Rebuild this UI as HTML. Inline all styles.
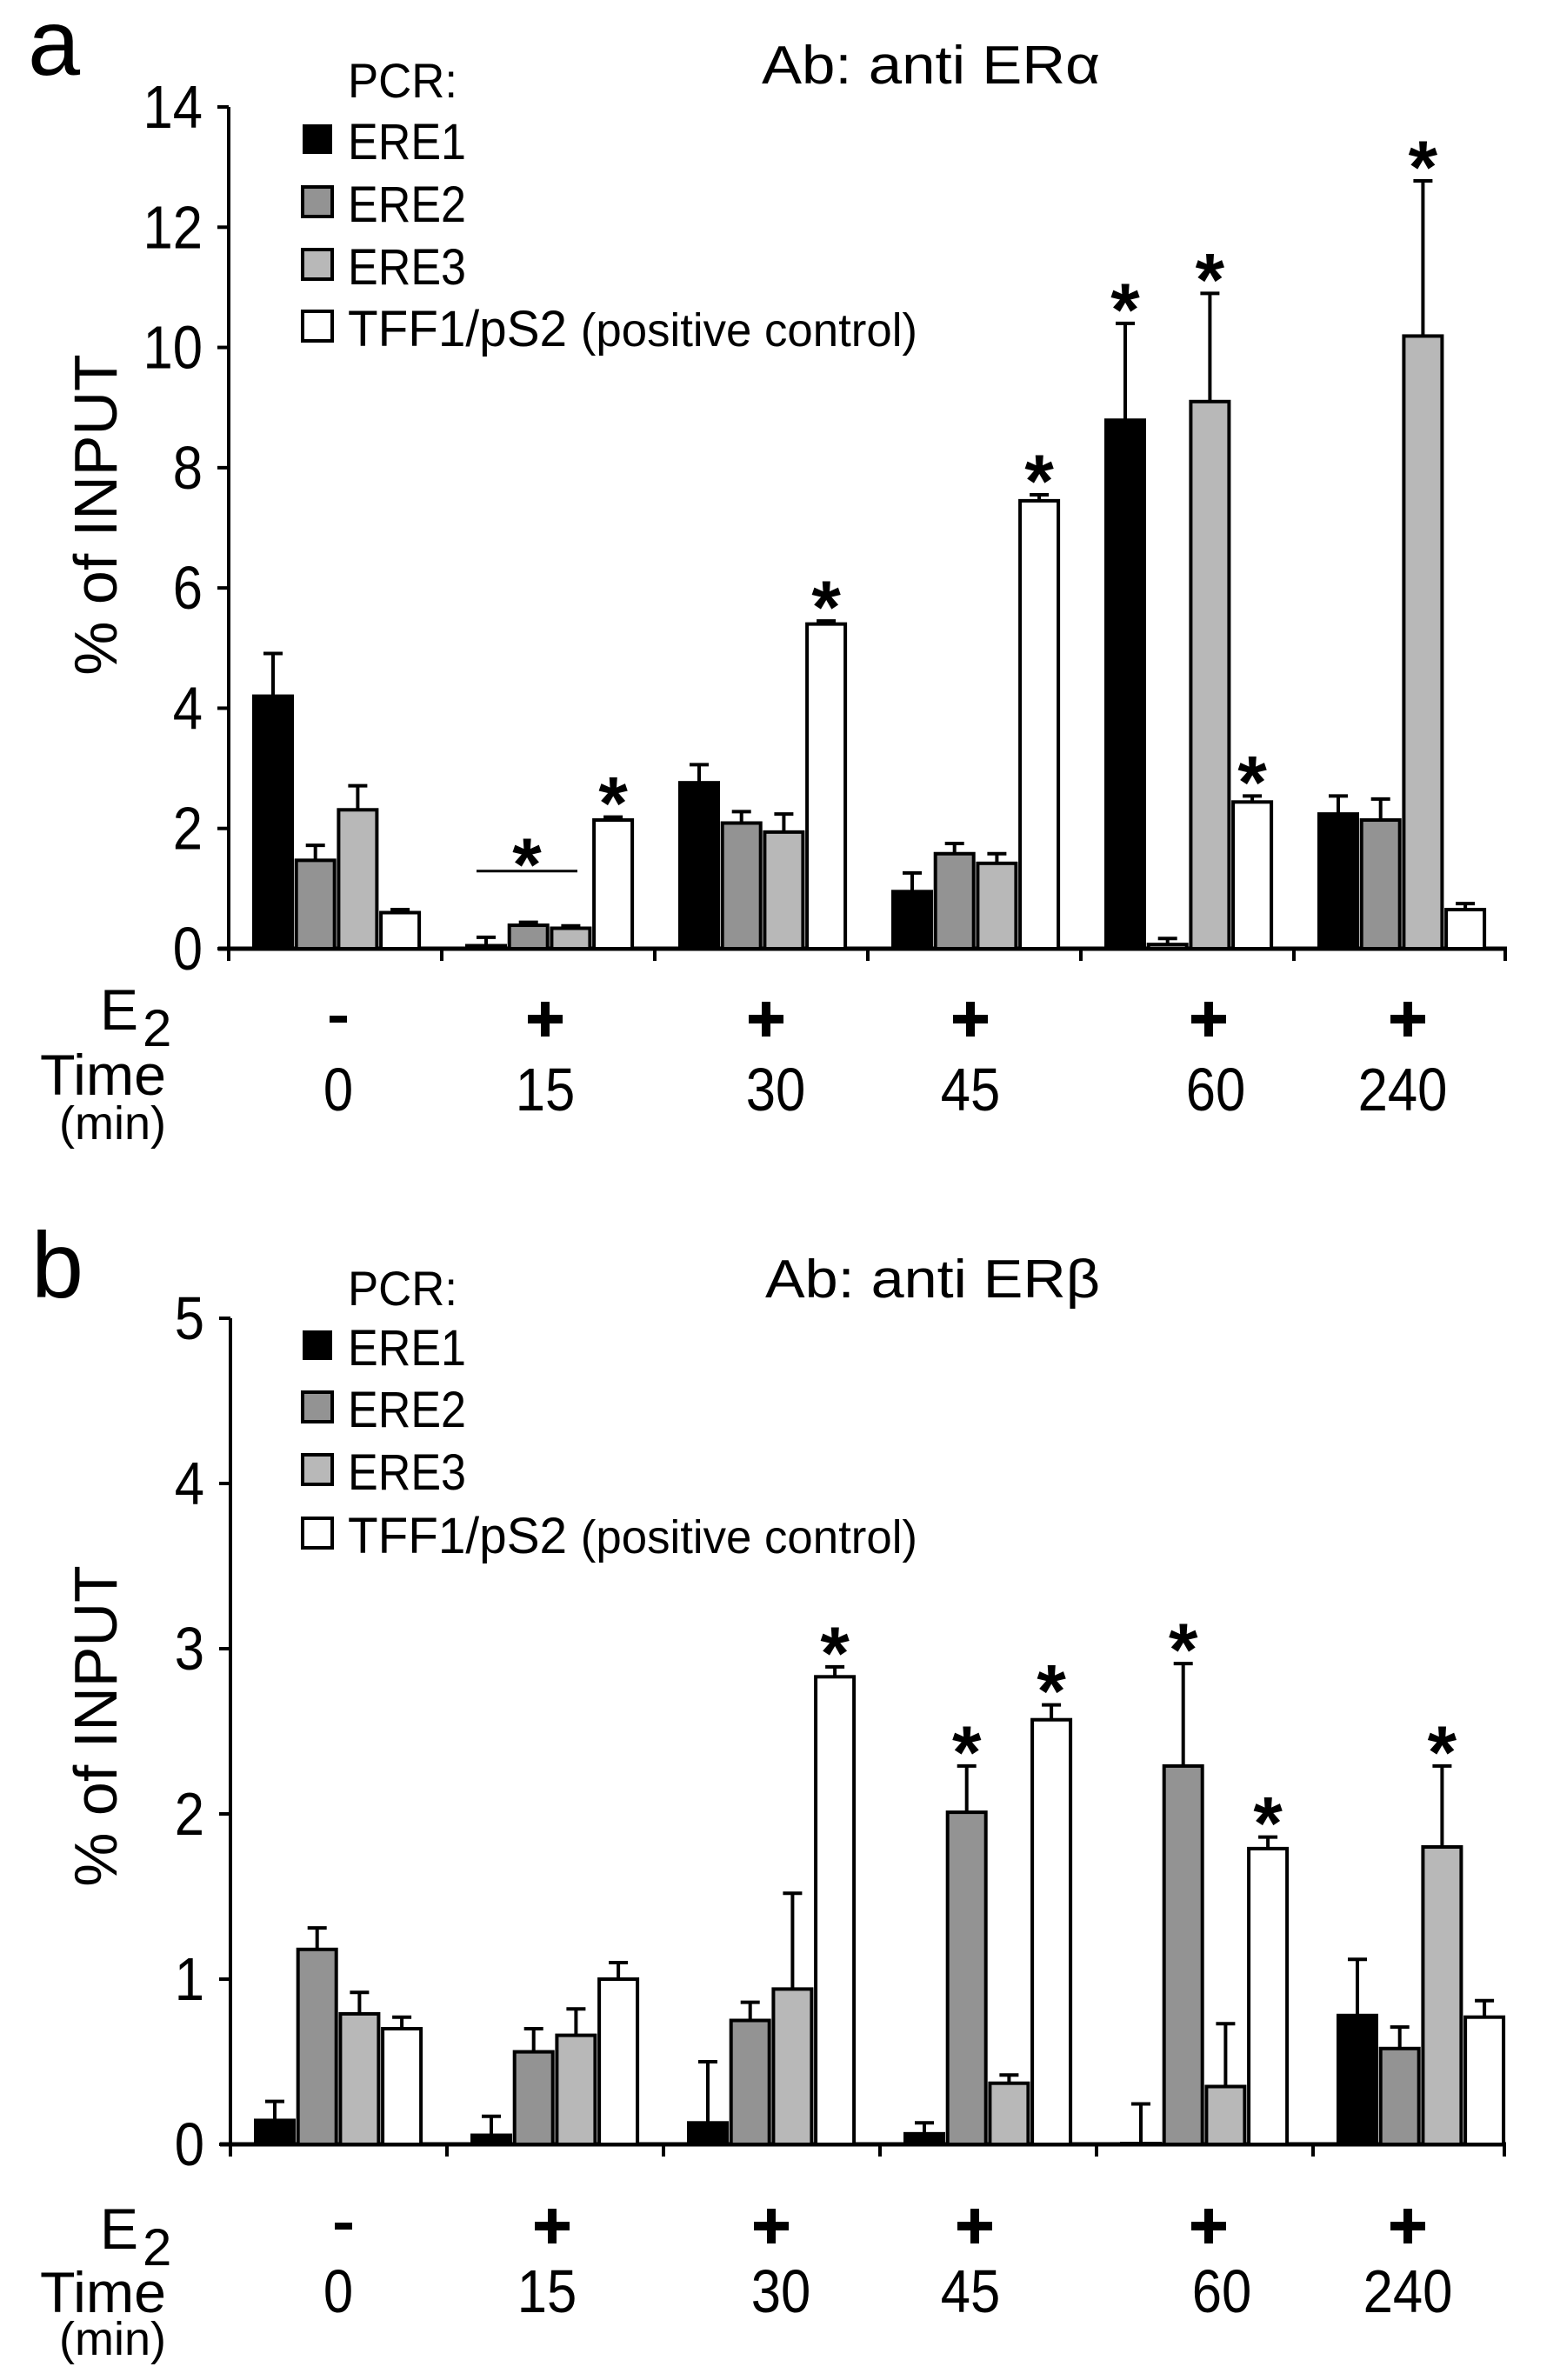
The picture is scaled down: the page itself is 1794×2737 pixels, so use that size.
<!DOCTYPE html>
<html><head><meta charset="utf-8"><style>
html,body{margin:0;padding:0;background:#fff}
svg{display:block}
text{font-family:"Liberation Sans",Arial,sans-serif;fill:#000}
</style></head><body>
<svg id="fig" width="1794" height="2737" viewBox="0 0 1794 2737" xmlns="http://www.w3.org/2000/svg">
<g>
<text x="32" y="86" font-size="108">a</text>
<text x="876" y="96" font-size="62" textLength="389" lengthAdjust="spacingAndGlyphs">Ab: anti ERα</text>
<text x="400" y="112" font-size="56" textLength="126" lengthAdjust="spacingAndGlyphs">PCR:</text>
<text transform="translate(134,592) rotate(-90)" font-size="70" text-anchor="middle">% of INPUT</text>
<text x="115" y="1184" font-size="66">E</text>
<text x="164" y="1203" font-size="60">2</text>
<text x="46" y="1259" font-size="66" textLength="145" lengthAdjust="spacingAndGlyphs">Time</text>
<text x="68" y="1310" font-size="54" textLength="123" lengthAdjust="spacingAndGlyphs">(min)</text>
</g>
<g>
<text x="36" y="1492" font-size="108">b</text>
<text x="880" y="1492" font-size="62" textLength="385" lengthAdjust="spacingAndGlyphs">Ab: anti ERβ</text>
<text x="400" y="1501" font-size="56" textLength="126" lengthAdjust="spacingAndGlyphs">PCR:</text>
<text transform="translate(134,1985) rotate(-90)" font-size="70" text-anchor="middle">% of INPUT</text>
<text x="115" y="2586" font-size="66">E</text>
<text x="164" y="2605" font-size="60">2</text>
<text x="46" y="2659" font-size="66" textLength="145" lengthAdjust="spacingAndGlyphs">Time</text>
<text x="68" y="2708" font-size="54" textLength="123" lengthAdjust="spacingAndGlyphs">(min)</text>
</g>
</svg>
<script>
const seriesNames = ["ERE1","ERE2","ERE3","TFF1/pS2 (positive control)"];
const timeLabels = ["0","15","30","45","60","240"];
const e2Labels = ["-","+","+","+","+","+"];
const aTicks = [0,2,4,6,8,10,12,14];
const bTicks = [0,1,2,3,4,5];
// panel a values [group][series]
const aValues = [[4.2,1.47,2.31,0.6],[0.05,0.39,0.34,2.14],[2.76,2.09,1.94,5.4],[0.95,1.58,1.42,7.45],[8.79,0.07,9.1,2.44],[2.24,2.14,10.19,0.65]];
const aErrors = [[4.91,1.72,2.71,0.65],[0.19,0.44,0.38,2.19],[3.06,2.28,2.24,5.45],[1.26,1.75,1.58,7.55],[10.4,0.17,10.9,2.54],[2.54,2.49,12.77,0.75]];
const aStars = [[0,0,0,0],[0,0,0,1],[0,0,0,1],[0,0,0,1],[1,0,1,1],[0,0,1,0]];
const bValues = [[0.145,1.18,0.79,0.7],[0.055,0.56,0.66,1.0],[0.13,0.75,0.94,2.83],[0.064,2.01,0.37,2.57],[0.005,2.29,0.35,1.79],[0.78,0.58,1.8,0.77]];
const bErrors = [[0.26,1.31,0.92,0.77],[0.17,0.7,0.82,1.1],[0.5,0.86,1.52,2.89],[0.13,2.29,0.42,2.66],[0.245,2.91,0.73,1.86],[1.12,0.71,2.29,0.87]];
const bStars = [[0,0,0,0],[0,0,0,0],[0,0,0,1],[0,1,0,1],[0,1,0,1],[0,0,1,0]];

const fills = ["#000","#939393","#b8b8b8","#fff"];
const NS = "http://www.w3.org/2000/svg";
const svg = document.getElementById('fig');
function mk(tag, attrs, parent){const e=document.createElementNS(NS,tag);for(const k in attrs)e.setAttribute(k,attrs[k]);(parent||svg).appendChild(e);return e;}

function drawPanel(p){
  const g = mk('g',{});
  
  
  const max = p.ticks[p.ticks.length-1];
  const y = v => p.y0 - (v/max)*(p.y0-p.yTop);
  const gx = i => p.x0 + i*p.step;
  const ya = mk('line',{x1:p.x0,y1:y(max),x2:p.x0,y2:p.y0,stroke:'#000','stroke-width':4},g);
  
  
  p.ticks.forEach(t=>{
    mk('line',{x1:p.x0-13,y1:y(t),x2:p.x0,y2:y(t),stroke:'#000','stroke-width':4},g);
    const tl = mk('text',{transform:'translate('+(p.x0-30)+','+(y(t)+24)+') scale(0.88,1)','font-size':70,'text-anchor':'end'},g);
    tl.textContent = t;
    
    
  });
  const xa = mk('line',{x1:p.x0-12,y1:p.y0,x2:p.xEnd,y2:p.y0,stroke:'#000','stroke-width':5},g);
  
  
  for(let i=0;i<=timeLabels.length;i++){
    const xx = Math.min(gx(i), p.xEnd-2);
    mk('line',{x1:xx,y1:p.y0,x2:xx,y2:p.y0+14,stroke:'#000','stroke-width':4},g);
  }
  p.values.forEach((grp,i)=>{
    grp.forEach((v,s)=>{
      const bx = gx(i) + 29 + s*48.7;
      const bw = 44;
      const top = y(v), err = y(p.errors[i][s]);
      const cx = bx + bw/2;
      const el = mk('line',{x1:cx,y1:top,x2:cx,y2:err,stroke:'#000','stroke-width':4},g);
      
      
      mk('line',{x1:cx-11,y1:err,x2:cx+11,y2:err,stroke:'#000','stroke-width':4},g);
      const r = mk('rect',{x:bx,y:top,width:bw,height:Math.max(p.y0-top,0.5),fill:fills[s],stroke:'#000','stroke-width':4},g);
      
      
      if(p.stars[i][s]){
        const st = mk('text',{x:cx,y:err+14,'font-size':86,'font-weight':'bold','text-anchor':'middle'},g);
        st.textContent='*';
        
        
      }
    });
    const sx = p.signX[i];
    if(e2Labels[i]==='+'){
      const pl = mk('g',{},g);
      
      
      mk('rect',{x:sx-20,y:p.signY-5,width:40,height:10,fill:'#000'},pl);
      mk('rect',{x:sx-5,y:p.signY-20,width:10,height:40,fill:'#000'},pl);
    } else {
      const mn = mk('rect',{x:sx-10,y:p.signY-4,width:20,height:8,fill:'#000'},g);
      
      
    }
    const tl = mk('text',{transform:'translate('+p.timeX[i]+','+p.timeY+') scale(0.88,1)','font-size':70,'text-anchor':'middle'},g);
    tl.textContent = timeLabels[i];
    
    
  });
  seriesNames.forEach((n,s)=>{
    const ly = p.legY[s];
    const sq = mk('rect',{x:348,y:ly-40,width:34,height:34,fill:fills[s],stroke:'#000','stroke-width':s===0?0:4},g);
    
    
    const t = mk('text',{x:400,y:ly,'font-size':58},g);
    if(s===3){
      t.setAttribute('textLength', 655);
      t.setAttribute('lengthAdjust', 'spacingAndGlyphs');
      t.textContent = 'TFF1/pS2 ';
      const sp = mk('tspan',{'font-size':54},t); sp.textContent='(positive control)';
    } else {
      t.setAttribute('textLength', 136);
      t.setAttribute('lengthAdjust', 'spacingAndGlyphs');
      t.textContent = n;
    }
    
    
  });
  if(p.sigLine){
    const [gi,v] = p.sigLine;
    const ly = y(v);
    const l = mk('line',{x1:gx(gi)+40,y1:ly,x2:gx(gi)+156,y2:ly,stroke:'#000','stroke-width':3},g);
    
    
    const st = mk('text',{x:gx(gi)+98,y:ly+22,'font-size':86,'font-weight':'bold','text-anchor':'middle'},g);
    st.textContent='*';
    
    
  }
}

drawPanel({id:'panel-a',x0:263,xEnd:1733,step:245,y0:1091,yTop:123,ticks:aTicks,values:aValues,errors:aErrors,stars:aStars,
  signX:[389,627,881,1116,1390,1619],signY:1172,timeX:[389,627,892,1116,1398,1613],timeY:1277,legY:[183,255,327,398],sigLine:[1,1.29]});
drawPanel({id:'panel-b',x0:265,xEnd:1732,step:249,y0:2466,yTop:1516,ticks:bTicks,values:bValues,errors:bErrors,stars:bStars,
  signX:[395,635,887,1121,1390,1619],signY:2560,timeX:[389,629,898,1116,1405,1619],timeY:2659,legY:[1570,1641,1713,1786],sigLine:null});
</script>
</body></html>
